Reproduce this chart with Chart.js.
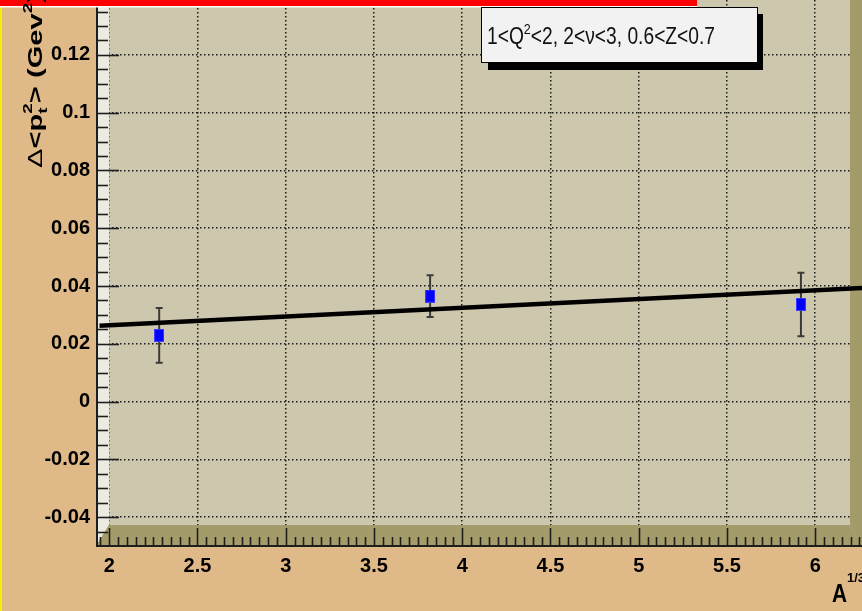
<!DOCTYPE html>
<html><head><meta charset="utf-8">
<script src="https://cdn.jsdelivr.net/npm/chart.js@4.4.1/dist/chart.umd.min.js"></script>
<style>html,body{margin:0;padding:0;background:#dfb987;overflow:hidden}canvas{display:block}</style>
</head><body>
<canvas id="c" width="862" height="611"></canvas>
<script>
// ---- data ----
const aOneThird = [2.283, 3.818, 5.919];          // A^{1/3}
const deltaPt2 = [0.0229, 0.0365, 0.0336];        // Δ<pt^2> (GeV^2)
const deltaPt2Err = [0.0095, 0.0072, 0.011];
const fitA = [1.945, 6.265];
const fitPt2 = [0.0262, 0.0393];
const xTickValues = [2, 2.5, 3, 3.5, 4, 4.5, 5, 5.5, 6];
const xTickLabels = ['2', '2.5', '3', '3.5', '4', '4.5', '5', '5.5', '6'];
const yTickValues = [-0.04, -0.02, 0, 0.02, 0.04, 0.06, 0.08, 0.1, 0.12];
const yTickLabels = ['-0.04', '-0.02', '0', '0.02', '0.04', '0.06', '0.08', '0.1', '0.12'];

const FONT = "'Liberation Sans', Arial, Helvetica, sans-serif";
const OUTER = '#dfb987', PLOT = '#cdc8ad', DARK = '#a39b69', LIGHT = '#ecebe1';

const marker = document.createElement('canvas');
marker.width = 10; marker.height = 13;
(function(){ const m = marker.getContext('2d'); m.fillStyle = '#3b3bff'; m.fillRect(0,0,10,13); m.fillStyle = '#0000ff'; m.fillRect(1,1,8,11); })();

function drawRuns(ctx, runs, targetW) {
  let w = 0;
  runs.forEach(r => { ctx.font = r.font; r.w = ctx.measureText(r.t).width; if (r.adv !== false) w += r.w; });
  const sx = targetW / w;
  ctx.scale(sx, 1);
  let x = 0;
  runs.forEach(r => { ctx.font = r.font; ctx.fillText(r.t, x, r.dy || 0); if (r.adv !== false) x += r.w; });
}

const framePlugin = {
  id: 'frame',
  beforeDraw(chart) {
    const { ctx, chartArea: a } = chart;
    ctx.save();
    ctx.fillStyle = OUTER; ctx.fillRect(0, 0, chart.width, chart.height);
    ctx.fillStyle = PLOT; ctx.fillRect(a.left, a.top, a.right - a.left, a.bottom - a.top);
    ctx.restore();
  },
  beforeDatasetsDraw(chart) {
    const { ctx, chartArea: a, scales: { x, y } } = chart;
    const L = a.left, R = a.right, T = a.top - 20, B = a.bottom;
    ctx.save();
    // bevels
    ctx.fillStyle = LIGHT;
    ctx.beginPath(); ctx.moveTo(L, T); ctx.lineTo(L + 13, T); ctx.lineTo(L + 13, B - 21); ctx.lineTo(L, B); ctx.closePath(); ctx.fill();
    ctx.fillStyle = DARK;
    ctx.beginPath(); ctx.moveTo(L, B); ctx.lineTo(L + 13, B - 21); ctx.lineTo(R - 12, B - 21); ctx.lineTo(R, B); ctx.closePath(); ctx.fill();
    ctx.beginPath(); ctx.moveTo(R - 12, T); ctx.lineTo(R, T); ctx.lineTo(R, B); ctx.lineTo(R - 12, B - 21); ctx.closePath(); ctx.fill();
    // axis lines
    ctx.strokeStyle = '#1e1e1e'; ctx.lineWidth = 2;
    ctx.beginPath(); ctx.moveTo(L + 1, 0); ctx.lineTo(L + 1, B); ctx.lineTo(R, B); ctx.stroke();
    // tick marks
    ctx.lineWidth = 1.6;
    for (let i = -10; i <= 28; i++) {
      const p = Math.round(y.getPixelForValue(i * 0.005)) + 0.5;
      if (p < 0 || p > B) continue;
      const len = (i % 4 === 0) ? 23 : 12;
      ctx.beginPath(); ctx.moveTo(L, p); ctx.lineTo(L + len, p); ctx.stroke();
    }
    for (let i = 39; i <= 126; i++) {
      const p = Math.round(x.getPixelForValue(i * 0.05)) + 0.5;
      if (p > R) continue;
      const len = (i % 10 === 0) ? 18 : 9;
      ctx.beginPath(); ctx.moveTo(p, B); ctx.lineTo(p, B - len); ctx.stroke();
    }
    // error bars
    ctx.strokeStyle = '#3a3a3a'; ctx.lineWidth = 2;
    aOneThird.forEach((av, i) => {
      const px = x.getPixelForValue(av);
      const y1 = y.getPixelForValue(deltaPt2[i] + deltaPt2Err[i]);
      const y2 = y.getPixelForValue(deltaPt2[i] - deltaPt2Err[i]);
      ctx.beginPath();
      ctx.moveTo(px, y1); ctx.lineTo(px, y2);
      ctx.moveTo(px - 3.5, y1); ctx.lineTo(px + 3.5, y1);
      ctx.moveTo(px - 3.5, y2); ctx.lineTo(px + 3.5, y2);
      ctx.stroke();
    });
    ctx.restore();
  },
  afterDraw(chart) {
    const ctx = chart.ctx;
    ctx.save();
    // yellow left edge and red top bar (slide remnants)
    ctx.fillStyle = '#f5f000'; ctx.fillRect(0, 6, 2, 611);
    ctx.fillStyle = '#ff0000'; ctx.fillRect(0, 0, 697, 6);
    ctx.fillStyle = '#ffffff'; ctx.fillRect(0, 6, 697, 1.5);
    // text pave
    ctx.fillStyle = '#000'; ctx.fillRect(488, 14, 275, 56);
    ctx.fillStyle = '#f2f2f2'; ctx.fillRect(481, 7, 277, 56);
    ctx.strokeStyle = '#000'; ctx.lineWidth = 1; ctx.strokeRect(481.5, 7.5, 276, 55);
    ctx.fillStyle = '#111';
    ctx.save(); ctx.translate(487, 44);
    drawRuns(ctx, [
      { t: '1<Q', font: '23px ' + FONT },
      { t: '2', font: '15px ' + FONT, dy: -10 },
      { t: '<2, 2<ν<3, 0.6<Z<0.7', font: '23px ' + FONT }
    ], 228);
    ctx.restore();
    // y title
    ctx.fillStyle = '#000';
    ctx.save(); ctx.translate(42, 168); ctx.rotate(-Math.PI / 2);
    drawRuns(ctx, [
      { t: 'Δ', font: '20px ' + FONT },
      { t: '<p', font: 'bold 20px ' + FONT },
      { t: 't', font: 'bold 13px ' + FONT, dy: 5, adv: false },
      { t: '2', font: 'bold 13px ' + FONT, dy: -10 },
      { t: '> (Gev', font: 'bold 20px ' + FONT },
      { t: '2', font: 'bold 13px ' + FONT, dy: -10 },
      { t: ')', font: 'bold 20px ' + FONT }
    ], 175);
    ctx.restore();
    // x title
    ctx.save(); ctx.translate(832, 602);
    drawRuns(ctx, [{ t: 'A', font: 'bold 25px ' + FONT }], 15);
    ctx.restore();
    ctx.save(); ctx.translate(847, 582);
    drawRuns(ctx, [{ t: '1/3', font: 'bold 13px ' + FONT }], 18);
    ctx.restore();
    ctx.restore();
  }
};

new Chart(document.getElementById('c'), {
  type: 'scatter',
  data: {
    datasets: [
      {
        type: 'line', order: 0,
        data: fitA.map((v, i) => ({ x: v, y: fitPt2[i] })),
        borderColor: '#000', borderWidth: 4.5, pointRadius: 0, fill: false, tension: 0
      },
      {
        order: 1,
        data: aOneThird.map((v, i) => ({ x: v, y: deltaPt2[i] })),
        pointStyle: marker, pointRadius: 6, backgroundColor: '#0000ff', borderColor: '#0000ff'
      }
    ]
  },
  options: {
    responsive: false, animation: false, devicePixelRatio: 1,
    layout: { padding: 0, autoPadding: false },
    plugins: { legend: { display: false }, tooltip: { enabled: false } },
    scales: {
      x: {
        type: 'linear', position: 'bottom', min: 1.925, max: 6.265,
        afterBuildTicks: s => { s.ticks = xTickValues.map(v => ({ value: v })); },
        afterFit: s => { s.height = 65; s.paddingLeft = 0; s.paddingRight = 0; s.paddingTop = 0; s.paddingBottom = 0; },
        ticks: { callback: (v, i) => xTickLabels[i], autoSkip: false, maxRotation: 0, padding: 8,
                 color: '#000', font: { family: FONT, size: 20, weight: 'bold' } },
        grid: { color: '#1a1a1a', lineWidth: 1.5, drawTicks: false },
        border: { display: false, dash: [1.5, 2.5] }
      },
      y: {
        type: 'linear', position: 'left', min: -0.05, max: 0.139,
        afterBuildTicks: s => { s.ticks = yTickValues.map(v => ({ value: v })); },
        afterFit: s => { s.width = 96; s.paddingLeft = 0; s.paddingRight = 0; s.paddingTop = 0; s.paddingBottom = 0; },
        ticks: { callback: (v, i) => yTickLabels[i], autoSkip: false, padding: 6,
                 color: '#000', font: { family: FONT, size: 20, weight: 'bold' } },
        grid: { color: '#1a1a1a', lineWidth: 1.5, drawTicks: false },
        border: { display: false, dash: [1.5, 2.5] }
      }
    }
  },
  plugins: [framePlugin]
});
</script>
</body></html>
